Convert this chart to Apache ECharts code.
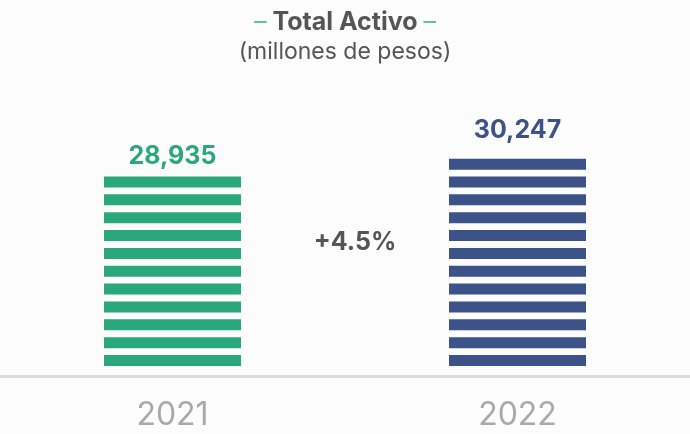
<!DOCTYPE html>
<html>
<head>
<meta charset="utf-8">
<script src="https://cdn.jsdelivr.net/npm/echarts@6/dist/echarts.min.js"></script>
<style>
  html, body { margin: 0; padding: 0; background: #fcfcfc; }
  #main { width: 690px; height: 434px; }
</style>
</head>
<body>
<div id="main"></div>
<script>
// 数据
var years = ['2021', '2022'];
var totalActivo = [28935, 30247];

// 样式
var barColors = ['#2aa87c', '#3d5289'];
var labelGaps = [7, 16];
var yMin = 15000;
var yMax = 40000;
var stripeH = 11;
var stripeGap = 7;
var barW = 137;

// 变化百分比
function growthText() {
  var g = (totalActivo[1] / totalActivo[0] - 1) * 100;
  return (g >= 0 ? '+' : '') + g.toFixed(1) + '%';
}

// 条纹柱子
function renderStripes(params, api) {
  var top = api.coord([api.value(0), api.value(1)]);
  var base = api.coord([api.value(0), yMin]);
  var len = base[1] - top[1];
  var n = Math.max(Math.round((len + stripeGap) / (stripeH + stripeGap)), 1);
  var gap = n > 1 ? (len - n * stripeH) / (n - 1) : 0;
  var color = api.visual('color');
  var children = [];
  for (var i = 0; i < n; i++) {
    children.push({
      type: 'rect',
      shape: {
        x: top[0] - barW / 2,
        y: base[1] - stripeH - i * (stripeH + gap),
        width: barW,
        height: stripeH
      },
      style: { fill: color }
    });
  }
  children.push({
    type: 'text',
    x: top[0],
    y: top[1] - labelGaps[params.dataIndex],
    style: {
      text: api.value(1).toLocaleString('en-US'),
      fill: color,
      font: 'bold 25px Inter',
      align: 'center',
      verticalAlign: 'bottom'
    }
  });
  return { type: 'group', children: children };
}

function setActivoChart(eleName) {
  var dom = document.querySelector(eleName);
  var myChart = echarts.init(dom);
  var option = null;
  option = {
    backgroundColor: '#fcfcfc',
    textStyle: {
      fontFamily: 'Inter'
    },
    title: [{
      text: '{d|–} Total Activo {d|–}',
      left: 'center',
      top: 5,
      textStyle: {
        color: '#555555',
        fontSize: 25,
        fontWeight: 'bold',
        fontFamily: 'Inter',
        rich: {
          d: {
            color: '#5fc49c',
            fontSize: 25,
            fontWeight: 'normal',
            fontFamily: 'Inter'
          }
        }
      }
    }, {
      text: '(millones de pesos)',
      left: 'center',
      top: 36,
      textStyle: {
        color: '#555555',
        fontSize: 23,
        fontWeight: 'normal',
        fontFamily: 'Inter'
      }
    }, {
      text: growthText(),
      left: 350,
      top: 225,
      textAlign: 'center',
      textStyle: {
        color: '#555555',
        fontSize: 25,
        fontWeight: 'bold',
        fontFamily: 'Inter'
      }
    }],
    grid: {
      top: 26,
      bottom: 68,
      left: -10,
      right: 0
    },
    xAxis: {
      type: 'category',
      data: years,
      offset: 10,
      axisLine: {
        lineStyle: {
          color: '#dcdcdc',
          width: 3
        }
      },
      axisTick: {
        show: false
      },
      axisLabel: {
        color: '#a9a9a9',
        fontSize: 32,
        margin: 23,
        fontFamily: 'Inter'
      }
    },
    yAxis: {
      type: 'value',
      min: yMin,
      max: yMax,
      show: false,
      splitLine: {
        show: false
      }
    },
    series: [{
      type: 'custom',
      renderItem: renderStripes,
      data: totalActivo.map(function (v, i) {
        return {
          value: [i, v],
          itemStyle: { color: barColors[i] }
        };
      })
    }]
  };
  if (option && typeof option === 'object') {
    myChart.setOption(option, true);
  }
}

setActivoChart('#main');
</script>
</body>
</html>
